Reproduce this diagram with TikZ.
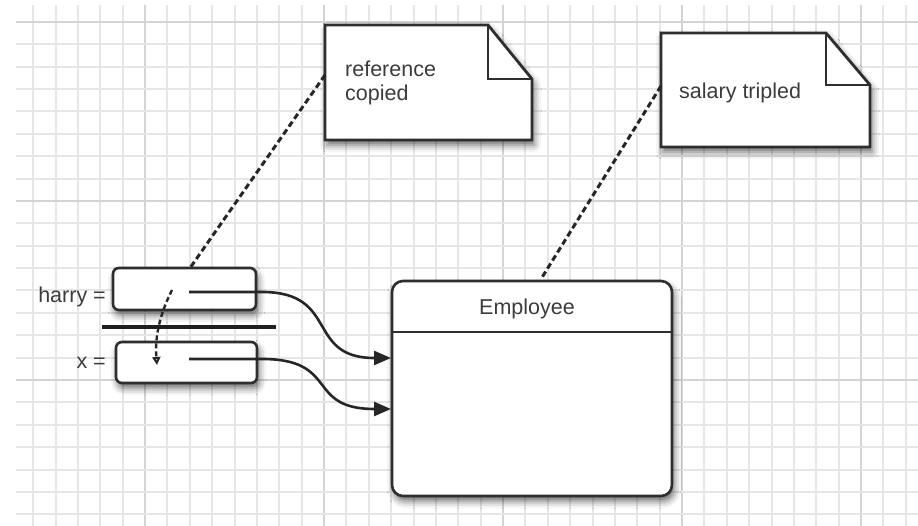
\documentclass[tikz,border=0pt]{standalone}
\usepackage{fontspec}
\setmainfont{Liberation Sans}
\usetikzlibrary{arrows.meta,shadows.blur,calc}
\definecolor{ink}{HTML}{2E2E2E}
\definecolor{txt}{HTML}{3C3C3C}
\definecolor{gridminor}{HTML}{E6E6E6}
\definecolor{gridmajor}{HTML}{D4D4D4}
\tikzset{
  shad/.style={blur shadow={shadow xshift=2pt,shadow yshift=-5pt,shadow blur radius=7pt,shadow opacity=60}},
  varbox/.style={draw=ink,line width=2.6pt,fill=white,rounded corners=6pt,shad,inner sep=0pt},
  classbox/.style={draw=ink,line width=2.6pt,fill=white,rounded corners=11pt,shad,inner sep=0pt},
  notebox/.style={draw=ink,line width=2.8pt,fill=white,line join=miter,shad},
  lbl/.style={text=txt,font=\fontsize{21.5}{24}\selectfont,inner sep=0pt},
  noteline/.style={draw=black!85,line width=3pt,dash pattern=on 6pt off 3.5pt},
  ptr/.style={draw=black!85,line width=2.6pt,-{Triangle[length=17pt,width=14pt]}},
}
\begin{document}
\begin{tikzpicture}[x=1pt,y=-1pt]
\useasboundingbox (0,0) rectangle (918,526);
% grid
\foreach \k in {-5,...,34}{
  \pgfmathtruncatemacro{\m}{mod(\k+80,8)}
  \ifnum\m=0
    \draw[gridmajor,line width=2.2pt] ({145+22.375*\k},5) -- ({145+22.375*\k},526);
  \else
    \draw[gridminor,line width=2pt] ({145+22.375*\k},5) -- ({145+22.375*\k},526);
  \fi
}
\foreach \k in {0,...,22}{
  \pgfmathtruncatemacro{\m}{mod(\k,8)}
  \ifnum\m=0
    \draw[gridmajor,line width=2.2pt] (16,{22+22.375*\k}) -- (918,{22+22.375*\k});
  \else
    \draw[gridminor,line width=2pt] (16,{22+22.375*\k}) -- (918,{22+22.375*\k});
  \fi
}
% notes
\path[notebox] (325,25) -- (488,25) -- (532,79) -- (532,140) -- (325,140) -- cycle;
\draw[ink,line width=2.8pt,line join=miter] (488,25) -- (488,79) -- (532,79);
\node[lbl,anchor=north west,align=left] (note1) at (345,61) {reference\\copied};
\path[notebox] (661,33) -- (826,33) -- (870,85) -- (870,147) -- (661,147) -- cycle;
\draw[ink,line width=2.8pt,line join=miter] (826,33) -- (826,85) -- (870,85);
\node[lbl,anchor=base west] (note2) at (679,99) {salary tripled};
\coordinate (n1) at (325,75);
\coordinate (n2) at (661,86);
% variable boxes
\node[varbox,minimum width=143pt,minimum height=42pt] (harry) at (184.5,289) {};
\node[varbox,minimum width=141pt,minimum height=41pt] (xbox) at (186.5,362.5) {};
\node[lbl,anchor=base east] (hl) at (106,303) {harry =};
\node[lbl,anchor=base east] (xl) at (106,369) {x =};
% bar
\draw[black!88,line width=4.5pt] (102,327) -- (276,327);
% employee
\node[classbox,minimum width=280pt,minimum height=215pt] (emp) at (532,388.5) {};
\draw[ink,line width=1.8pt] (emp.west |- 0,332) -- (emp.east |- 0,332);
\node[lbl,anchor=base] (empl) at (527,315) {Employee};
% note connectors
\coordinate (h1) at (190,268);
\coordinate (e1) at (541,279);
\draw[noteline] (n1) -- (h1);
\draw[noteline] (n2) -- (e1);
% pointers
\coordinate (hp) at (189,292);
\coordinate (xp) at (189,359);
\coordinate (t1) at (391,358);
\coordinate (t2) at (391,409);
\draw[ptr] (hp) -- (262,292) .. controls (340,292) and (305,358) .. (t1);
\draw[ptr] (xp) -- (262,359) .. controls (340,359) and (305,409) .. (t2);
% copy arrow
\coordinate (c1) at (172,290);
\coordinate (c2) at (157,365);
\draw[black!85,line width=2.4pt,dash pattern=on 5pt off 3pt,-{Triangle[length=8pt,width=8pt,open]}] (c1) .. controls (158,318) and (155,340) .. (c2);
\end{tikzpicture}
\end{document}
